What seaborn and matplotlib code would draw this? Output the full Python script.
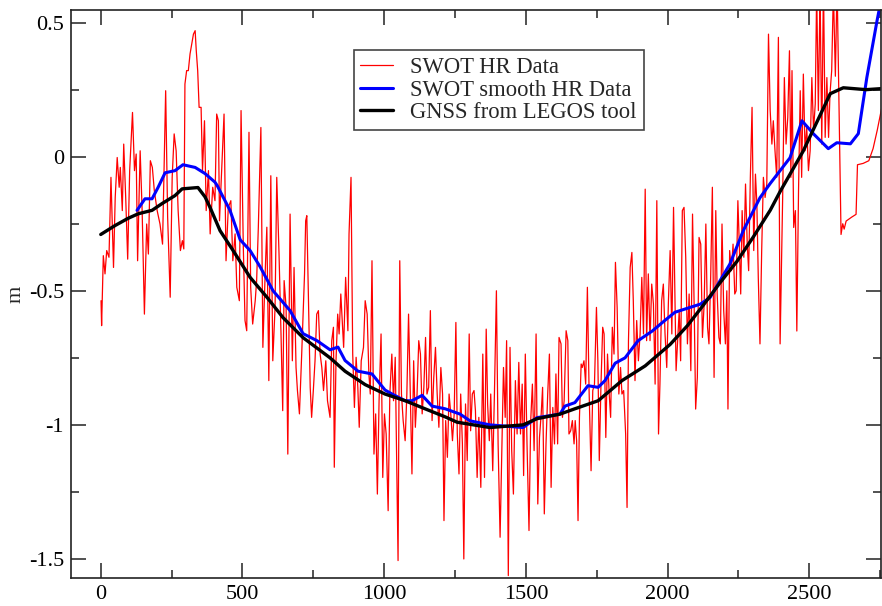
import matplotlib
matplotlib.use("Agg")
import matplotlib.pyplot as plt
from matplotlib.ticker import MultipleLocator, FuncFormatter
import seaborn as sns

# ---------------- data ----------------
red_x = [1, 3, 9, 15, 21, 29, 36, 45, 51, 58, 65, 69, 76, 81, 88, 95, 102, 112, 119, 125,
         130, 139, 146, 154, 162, 168, 175, 182, 189, 199, 209, 218, 229, 236, 245, 252, 259, 266, 273, 281,
         288, 293, 297, 303, 309, 315, 321, 327, 333, 337, 342, 347, 354, 359, 366, 372, 380, 386,
         395, 403, 409, 415, 419, 427, 435, 442, 450, 459, 466, 474, 480, 489, 495, 503, 509, 515, 523, 529,
         536, 545, 550, 556, 565, 572, 580, 586, 593, 600, 607, 615, 621, 629, 636, 642, 647, 654, 660, 668,
         676, 682, 689, 694, 701, 709, 719, 723, 727, 733, 739, 744, 750, 756, 762, 768, 774, 780, 786, 794, 800,
         809, 815, 821, 824, 830, 836, 841, 847, 853, 857, 864, 872, 876, 883, 889, 895, 901, 907, 912, 919,
         927, 933, 940, 946, 951, 957, 964, 970, 976, 982, 989, 995, 1001, 1007, 1014, 1020, 1027, 1033, 1039, 1044,
         1049, 1055, 1061, 1067, 1074, 1080, 1086, 1091, 1098, 1104, 1110, 1116, 1122, 1128, 1134, 1140, 1146, 1151, 1157, 1163,
         1169, 1175, 1181, 1187, 1193, 1200, 1206, 1211,
         1217, 1223, 1229, 1235, 1241, 1247, 1253, 1258, 1264, 1270, 1276, 1281, 1287, 1293, 1300, 1305, 1311, 1317, 1322, 1328,
         1334, 1341, 1348, 1354, 1360, 1365, 1371, 1376, 1383, 1389, 1396, 1402, 1409, 1415, 1421, 1427, 1432, 1438, 1444, 1450,
         1456, 1463, 1469, 1475, 1481, 1487, 1492, 1498, 1504, 1511, 1517, 1523, 1529, 1536, 1542, 1548, 1554, 1559, 1565, 1571,
         1577, 1583, 1589, 1595, 1601, 1606, 1612, 1617,
         1624, 1629, 1635, 1642, 1648, 1652, 1658, 1664, 1670, 1674, 1679, 1684, 1689, 1695, 1699, 1705, 1711, 1717, 1723, 1730,
         1736, 1742, 1749, 1754, 1759, 1765, 1771, 1776, 1782, 1788, 1794, 1799, 1805, 1811, 1816, 1822, 1828, 1834, 1839, 1845,
         1852, 1857, 1862, 1868, 1874, 1879, 1885, 1891, 1897, 1903, 1909, 1915, 1921, 1926, 1932, 1938, 1944, 1950, 1956, 1962,
         1968, 1973, 1979, 1985, 1991, 1997, 2003, 2009, 2015, 2021,
         2030, 2035, 2041, 2046, 2052, 2058, 2064, 2070, 2076, 2082, 2088, 2094, 2099, 2105, 2111, 2117, 2123, 2129, 2135, 2141,
         2146, 2152, 2158, 2164, 2170, 2175, 2181, 2186, 2192, 2198, 2204, 2209, 2213, 2219, 2225, 2231, 2237, 2242, 2248, 2253,
         2258, 2263, 2269, 2275, 2281, 2286, 2292, 2298, 2304, 2310, 2315, 2320, 2326, 2332, 2338, 2344, 2350, 2356, 2362, 2368,
         2373, 2379, 2385, 2391, 2397,
         2406, 2412, 2418, 2424, 2430, 2435, 2439, 2445, 2451, 2456, 2462, 2468, 2473, 2479, 2485, 2491, 2497, 2503, 2509, 2515,
         2521, 2526, 2532, 2538, 2544, 2550, 2556, 2562, 2568, 2573, 2579, 2585, 2592, 2598, 2612, 2618, 2623, 2630, 2650, 2665,
         2670, 2690, 2710, 2725, 2740, 2757]
red_y = [-0.537, -0.63, -0.369, -0.437, -0.35, -0.375, -0.077, -0.413, -0.152, -0.003,
         -0.114, -0.04, -0.201, 0.047, -0.152, -0.382, -0.052, 0.165, -0.052, 0.01,
         -0.388, 0.022, -0.201, -0.587, -0.251, -0.363, -0.015, -0.04, -0.127, -0.201,
         -0.251, -0.326, 0.246, -0.226, -0.524, -0.077, 0.085, 0.022, -0.201, -0.35,
         -0.313, -0.344, 0.271, 0.321, 0.321, 0.383, 0.42, 0.457, 0.47, 0.395,
         0.321, 0.184, 0.184, -0.052, 0.134, -0.201, -0.052, -0.288,
         -0.114, -0.164, 0.159, 0.134, -0.239, -0.04, 0.159, -0.388, -0.189, -0.164,
         -0.388, -0.288, -0.487, -0.537, 0.172, -0.338, -0.611, -0.649, 0.091, -0.487,
         -0.624, -0.537, -0.462, -0.263, 0.109, -0.711, -0.437, -0.263, -0.835, -0.071,
         -0.761, -0.562, -0.077, -0.363, -0.661, -0.947, -0.462, -0.562, -1.109, -0.214,
         -0.761, -0.413, -0.786, -0.872, -0.959, -0.736, -0.437, -0.239, -0.22, -0.537,
         -0.86, -0.972, -0.872, -0.761, -0.587, -0.574, -0.736, -0.786, -0.872, -0.761, -0.91,
         -0.972, -0.686, -0.636, -1.158, -0.761, -0.587, -0.661, -0.512, -0.636, -0.711,
         -0.45, -0.649, -0.288, -0.077, -0.736, -0.935, -0.748, -0.86, -1.009, -0.761,
         -0.711, -0.537, -0.587, -0.81, -0.885, -0.388, -1.109, -0.959, -1.258, -0.91,
         -0.661, -1.196, -0.959, -1.034, -1.32, -0.885, -0.736, -0.91, -0.748, -1.133,
         -1.506, -0.388, -0.885, -0.984, -1.059, -0.885, -0.587, -0.823, -1.183, -0.761,
         -1.009, -0.885, -0.686, -0.736, -0.959, -0.86, -0.674, -0.885, -0.86, -0.574,
         -0.984, -0.823, -0.711, -0.885, -1.009, -0.786, -0.885, -1.357,
         -0.984, -1.121, -0.885, -0.959, -1.059, -0.959, -0.618, -1.034, -1.183, -0.885,
         -1.071, -1.5, -0.922, -1.133, -0.661, -1.022, -0.885, -0.872, -0.947, -1.196,
         -0.972, -1.233, -0.736, -1.196, -0.643, -0.922, -1.059, -0.885, -1.171, -0.885,
         -0.5, -1.071, -1.419, -1.109, -0.786, -0.972, -0.686, -1.562, -0.711, -1.096,
         -1.258, -0.835, -1.034, -0.767, -1.034, -0.848, -1.189, -0.736, -1.071, -1.394,
         -0.984, -0.848, -1.096, -0.661, -1.295, -1.047, -0.959, -0.86, -1.332, -1.071,
         -0.885, -0.736, -1.233, -0.935, -1.071, -0.81, -1.071, -0.674,
         -0.698, -0.972, -0.91, -0.649, -0.686, -1.034, -1.022, -0.984, -1.071, -0.984,
         -1.059, -1.357, -0.972, -0.773, -0.786, -0.761, -0.848, -0.487, -0.872, -1.171,
         -0.872, -0.848, -0.562, -0.761, -1.133, -0.848, -0.636, -0.661, -1.047, -0.736,
         -0.885, -0.972, -0.636, -0.736, -0.394, -0.562, -0.885, -0.786, -0.885, -0.872,
         -1.034, -1.308, -0.686, -0.413, -0.357, -0.537, -0.835, -0.611, -0.761, -0.661,
         -0.45, -0.661, -0.121, -0.686, -0.437, -0.686, -0.475, -0.549, -0.848, -0.164,
         -1.034, -0.848, -0.537, -0.475, -0.661, -0.786, -0.537, -0.35, -0.661, -0.189,
         -0.798, -0.698, -0.574, -0.761, -0.201, -0.189, -0.375, -0.698, -0.512, -0.798,
         -0.214, -0.574, -0.941, -0.823, -0.301, -0.326, -0.674, -0.549, -0.251, -0.636,
         -0.698, -0.45, -0.114, -0.823, -0.201, -0.512, -0.674, -0.698, -0.251, -0.574,
         -0.698, -0.5, -0.941, -0.35, -0.425, -0.326, -0.512, -0.5, -0.164, -0.326,
         -0.512, -0.201, -0.375, -0.102, -0.326, -0.425, -0.077, 0.184, -0.35, -0.065,
         -0.176, -0.45, -0.698, -0.35, -0.077, -0.152, -0.102, 0.457, 0.172, 0.047,
         0.134, 0.022, -0.077, 0.445, -0.698,
         -0.152, 0.295, 0.047, 0.146, 0.395, -0.077, 0.321, -0.264, -0.201, -0.65,
         -0.127, 0.246, -0.077, 0.308, 0.022, 0.109, -0.052, 0.022, 0.295, 0.097,
         0.197, 0.62, 0.172, 0.62, 0.047, 0.65, 0.072, 0.295, 0.072, 0.234,
         0.321, 0.62, 0.3, 0.65, -0.29, -0.25, -0.27, -0.24, -0.225, -0.215,
         -0.03, -0.025, -0.015, 0.03, 0.1, 0.19]

blue_x = [128, 156, 181, 202, 227, 262, 290, 333, 368, 403, 411, 456, 492, 527, 562, 608, 668, 714, 763, 809,
          837, 862, 908, 957, 1003, 1028, 1074, 1098, 1134, 1169, 1215, 1268, 1303, 1373, 1490, 1539, 1620, 1638, 1673, 1719,
          1755, 1779, 1815, 1850, 1896, 1946, 1991, 2026, 2115, 2150, 2220, 2267, 2326, 2362, 2397, 2432, 2474, 2514, 2567, 2597,
          2645, 2673, 2703, 2739, 2760]
blue_y = [-0.20, -0.157, -0.157, -0.115, -0.06, -0.052, -0.03, -0.04, -0.063, -0.095, -0.108, -0.20, -0.31, -0.35, -0.41, -0.50, -0.574, -0.66, -0.686, -0.72,
          -0.71, -0.76, -0.80, -0.81, -0.87, -0.885, -0.91, -0.91, -0.89, -0.93, -0.94, -0.96, -0.985, -1.0, -1.01, -0.973, -0.96, -0.93, -0.917, -0.854,
          -0.86, -0.835, -0.77, -0.75, -0.686, -0.65, -0.61, -0.58, -0.55, -0.525, -0.40, -0.276, -0.153, -0.10, -0.052, -0.004, 0.134, 0.086, 0.03, 0.052,
          0.048, 0.086, 0.295, 0.507, 0.62]

black_x = [0, 50, 96, 132, 181, 216, 262, 287, 343, 368, 386, 421, 467, 527, 587, 643, 714, 809, 862, 933,
           1003, 1074, 1144, 1215, 1257, 1373, 1490, 1539, 1620, 1673, 1755, 1839, 1921, 2009, 2070, 2125, 2185, 2245, 2302, 2362,
           2397, 2478, 2574, 2620, 2700, 2757]
black_y = [-0.29, -0.257, -0.23, -0.213, -0.20, -0.175, -0.145, -0.12, -0.115, -0.15, -0.19, -0.276, -0.35, -0.45, -0.525, -0.60, -0.675, -0.75, -0.80, -0.85,
           -0.885, -0.91, -0.94, -0.97, -0.99, -1.01, -1.0, -0.977, -0.96, -0.94, -0.91, -0.835, -0.78, -0.70, -0.63, -0.555, -0.47, -0.39, -0.30, -0.20,
           -0.13, 0.02, 0.235, 0.257, 0.25, 0.254]

series_labels = ["SWOT HR Data", "SWOT smooth HR Data", "GNSS from LEGOS tool"]
x_ticks = [0, 500, 1000, 1500, 2000, 2500]
y_ticks = [-1.5, -1.0, -0.5, 0.0, 0.5]

# ---------------- style ----------------
sns.set_style("ticks")
plt.rcParams['font.family'] = ['Liberation Serif', 'DejaVu Serif']
plt.rcParams['axes.unicode_minus'] = False

fig = plt.figure(figsize=(8.82, 6.06), dpi=100)
ax = fig.add_axes([71 / 882, 1 - 578 / 606, 810 / 882, 568 / 606])

sns.lineplot(x=red_x, y=red_y, ax=ax, color='#ff0000', lw=0.9, label=series_labels[0],
             estimator=None, sort=False)
sns.lineplot(x=blue_x, y=blue_y, ax=ax, color='#0000ff', lw=2.2, label=series_labels[1],
             estimator=None, sort=False)
sns.lineplot(x=black_x, y=black_y, ax=ax, color='#000000', lw=2.4, label=series_labels[2],
             estimator=None, sort=False)

ax.set_xlim(-105, 2753)
ax.set_ylim(-1.571, 0.547)
ax.set_xticks(x_ticks)
ax.set_yticks(y_ticks)
ax.xaxis.set_minor_locator(MultipleLocator(250))
ax.yaxis.set_minor_locator(MultipleLocator(0.25))
ax.yaxis.set_major_formatter(FuncFormatter(lambda v, p: '%g' % v))
ax.tick_params(which='both', direction='in', top=True, right=True, width=1.1, colors='#222222',
               labelsize=16, labelcolor='black')
ax.tick_params(which='major', length=10.8)
ax.tick_params(which='minor', length=5.8)
ax.tick_params(axis='y', pad=5)
ax.tick_params(axis='x', pad=5)
for s in ax.spines.values():
    s.set_linewidth(1.2)
    s.set_color('#222222')

ax.set_xlabel('')
ax.set_ylabel('m', fontsize=16, labelpad=2)

leg = ax.legend(loc='upper left', bbox_to_anchor=(0.349, 0.9296), borderaxespad=0,
                fontsize=16.3, frameon=True, fancybox=False, edgecolor='#444444', framealpha=1,
                handlelength=1.45, handletextpad=0.75, labelspacing=0.08, borderpad=0.3)
leg.get_frame().set_linewidth(1.2)

fig.savefig('out.png', dpi=100)
